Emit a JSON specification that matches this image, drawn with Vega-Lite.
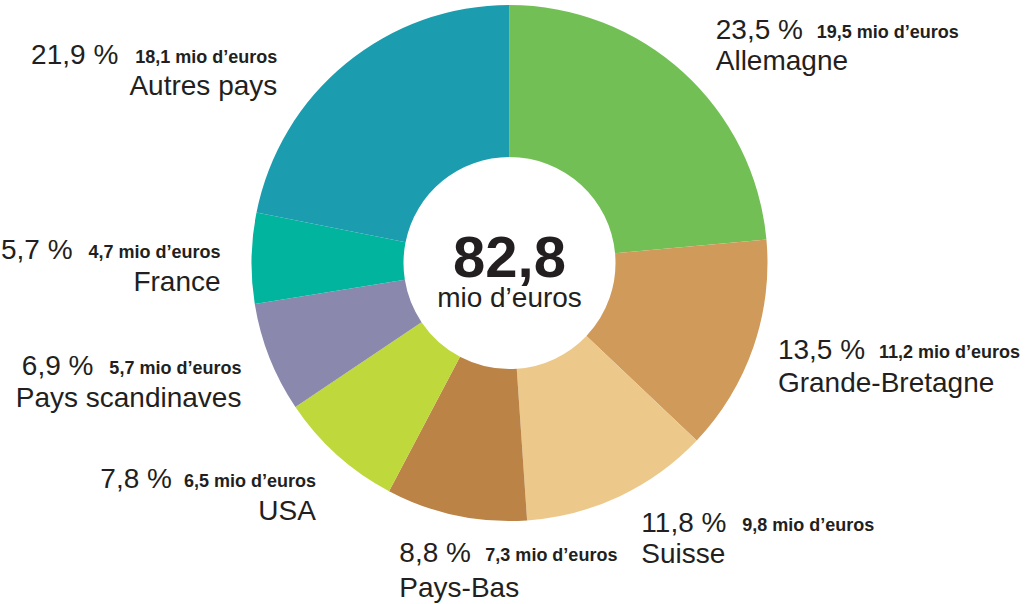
{
  "$schema": "https://vega.github.io/schema/vega-lite/v6.json",
  "width": 1019,
  "height": 526,
  "autosize": {"type": "none"},
  "padding": {"left": 0, "top": 0, "right": 10, "bottom": 78},
  "background": "white",
  "config": {"view": {"stroke": null}, "text": {"font": "Liberation Sans", "color": "#231f20"}},
  "data": {"values": [
    {"pays": "Allemagne", "part": 23.5, "mio": 19.5, "ordre": 1},
    {"pays": "Grande-Bretagne", "part": 13.5, "mio": 11.2, "ordre": 2},
    {"pays": "Suisse", "part": 11.8, "mio": 9.8, "ordre": 3},
    {"pays": "Pays-Bas", "part": 8.8, "mio": 7.3, "ordre": 4},
    {"pays": "USA", "part": 7.8, "mio": 6.5, "ordre": 5},
    {"pays": "Pays scandinaves", "part": 6.9, "mio": 5.7, "ordre": 6},
    {"pays": "France", "part": 5.7, "mio": 4.7, "ordre": 7},
    {"pays": "Autres pays", "part": 21.9, "mio": 18.1, "ordre": 8}
  ]},
  "transform": [
    {"calculate": "replace(format(datum.part, '.1f'), '.', ',') + ' %'", "as": "part_txt"},
    {"calculate": "replace(format(datum.mio, '.1f'), '.', ',') + ' mio d’euros'", "as": "mio_txt"}
  ],
  "layer": [
    {
      "mark": {"type": "arc", "outerRadius": 258, "innerRadius": 106, "stroke": null},
      "encoding": {
        "theta": {"field": "mio", "type": "quantitative", "stack": true},
        "order": {"field": "ordre", "type": "quantitative"},
        "color": {
          "field": "pays", "type": "nominal", "legend": null,
          "scale": {
            "domain": ["Allemagne", "Grande-Bretagne", "Suisse", "Pays-Bas", "USA", "Pays scandinaves", "France", "Autres pays"],
            "range": ["#72c055", "#d09b5a", "#ecc98b", "#bb8446", "#bfd83c", "#8a89ad", "#00b49d", "#1c9daf"]
          }
        }
      }
    },
    {
      "mark": {"type": "text", "radius": 300, "align": "left", "baseline": "alphabetic",
               "dx": {"expr": "datum.ordre == 4 ? -48 : datum.ordre == 2 ? -15 : 4"}, "dy": {"expr": "datum.ordre == 4 ? 6 : -2"}, "fontSize": 28},
      "encoding": {
        "theta": {"field": "mio", "type": "quantitative", "stack": true},
        "order": {"field": "ordre", "type": "quantitative"},
        "text": {"condition": {"test": "datum.ordre <= 4", "field": "part_txt"}, "value": ""}
      }
    },
    {
      "mark": {"type": "text", "radius": 300, "align": "left", "baseline": "alphabetic",
               "dx": {"expr": "(datum.ordre == 4 ? -48 : datum.ordre == 2 ? -15 : 4) + (datum.part >= 10 ? 101 : 86)"}, "dy": {"expr": "datum.ordre == 4 ? 5 : -3"},
               "fontSize": 18, "fontWeight": "bold"},
      "encoding": {
        "theta": {"field": "mio", "type": "quantitative", "stack": true},
        "order": {"field": "ordre", "type": "quantitative"},
        "text": {"condition": {"test": "datum.ordre <= 4", "field": "mio_txt"}, "value": ""}
      }
    },
    {
      "mark": {"type": "text", "radius": 300, "align": "left", "baseline": "alphabetic",
               "dx": {"expr": "datum.ordre == 4 ? -48 : datum.ordre == 2 ? -15 : 4"}, "dy": {"expr": "datum.ordre == 4 ? 41 : datum.ordre == 2 ? 31 : 29"}, "fontSize": 28},
      "encoding": {
        "theta": {"field": "mio", "type": "quantitative", "stack": true},
        "order": {"field": "ordre", "type": "quantitative"},
        "text": {"condition": {"test": "datum.ordre <= 4", "field": "pays"}, "value": ""}
      }
    },
    {
      "mark": {"type": "text", "radius": 300, "align": "right", "baseline": "alphabetic",
               "dx": {"expr": "(datum.ordre == 8 ? -53 : 0) + (datum.mio >= 10 ? -148 : -137)"}, "dy": {"expr": "datum.ordre == 8 ? 33 : 2"}, "fontSize": 28},
      "encoding": {
        "theta": {"field": "mio", "type": "quantitative", "stack": true},
        "order": {"field": "ordre", "type": "quantitative"},
        "text": {"condition": {"test": "datum.ordre > 4", "field": "part_txt"}, "value": ""}
      }
    },
    {
      "mark": {"type": "text", "radius": 300, "align": "right", "baseline": "alphabetic",
               "dx": {"expr": "datum.ordre == 8 ? -42 : datum.ordre == 5 ? 7 : 11"}, "dy": {"expr": "datum.ordre == 8 ? 32 : 1"}, "fontSize": 18, "fontWeight": "bold"},
      "encoding": {
        "theta": {"field": "mio", "type": "quantitative", "stack": true},
        "order": {"field": "ordre", "type": "quantitative"},
        "text": {"condition": {"test": "datum.ordre > 4", "field": "mio_txt"}, "value": ""}
      }
    },
    {
      "mark": {"type": "text", "radius": 300, "align": "right", "baseline": "alphabetic",
               "dx": {"expr": "datum.ordre == 8 ? -42 : datum.ordre == 5 ? 7 : 11"}, "dy": {"expr": "datum.ordre == 8 ? 64 : 34"}, "fontSize": 28},
      "encoding": {
        "theta": {"field": "mio", "type": "quantitative", "stack": true},
        "order": {"field": "ordre", "type": "quantitative"},
        "text": {"condition": {"test": "datum.ordre > 4", "field": "pays"}, "value": ""}
      }
    },
    {
      "transform": [
        {"aggregate": [{"op": "sum", "field": "mio", "as": "total"}]},
        {"calculate": "replace(format(datum.total, '.1f'), '.', ',')", "as": "total_txt"}
      ],
      "layer": [
        {
          "mark": {"type": "text", "align": "center", "baseline": "alphabetic", "dy": 14, "fontSize": 58, "fontWeight": "bold"},
          "encoding": {"text": {"field": "total_txt"}}
        },
        {
          "mark": {"type": "text", "align": "center", "baseline": "alphabetic", "dy": 44, "fontSize": 28, "text": "mio d’euros"},
          "encoding": {}
        }
      ]
    }
  ]
}
